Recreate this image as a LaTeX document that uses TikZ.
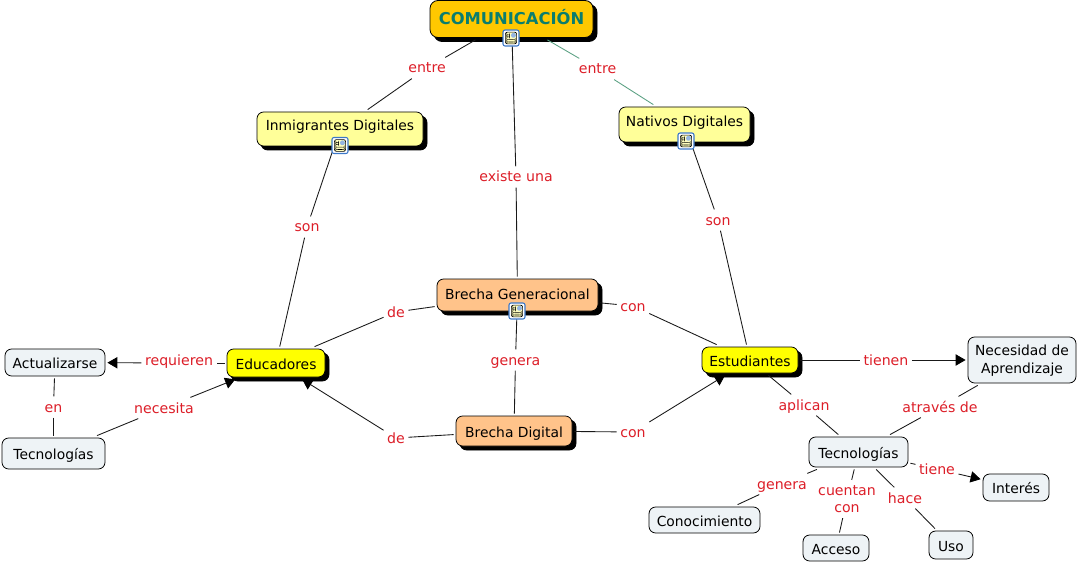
\documentclass[tikz,border=0pt]{standalone}
\usepackage{fontspec}
\setmainfont{DejaVu Sans}
\usetikzlibrary{arrows.meta, shadows}
\definecolor{topgold}{RGB}{255, 200, 0}
\definecolor{paleyellow}{RGB}{255, 255, 153}
\definecolor{brightyellow}{RGB}{255, 255, 0}
\definecolor{peach}{RGB}{255, 195, 138}
\definecolor{mistgray}{RGB}{238, 243, 246}
\definecolor{labelred}{RGB}{220, 30, 40}
\definecolor{titleteal}{RGB}{10, 125, 110}
\definecolor{linkgreen}{RGB}{90, 160, 130}
\definecolor{iconblue}{RGB}{60, 120, 200}
\definecolor{iconcream}{RGB}{255, 255, 190}

\begin{document}
\begin{tikzpicture}[x=0.75pt, y=-0.75pt,
  sz/.style 2 args={minimum width=#1*0.75pt, minimum height=#2*0.75pt},
  concept/.style={draw, rounded corners=5pt, inner sep=0pt, outer sep=1.8pt, font=\fontsize{10.4}{13.5}\selectfont,
                  align=center, text height=9.5pt, text depth=0.5pt, line width=0.6pt},
  shadowed/.style={concept, copy shadow={opacity=1, fill=black, draw=black, shadow xshift=3pt, shadow yshift=-3pt}},
  iconabove/.style={text height=9.5pt, text depth=6.5pt},
  linkword/.style={text=labelred, font=\fontsize{10.6}{12.75}\selectfont, inner xsep=2.5pt, inner ysep=3pt,
                   align=center, text height=8.5pt, text depth=1pt},
  conn/.style={line width=0.65pt, black!90},
  arrowconn/.style={conn, -{Triangle[length=7.5pt, width=8.5pt, color=black, fill=black]}},
  docicon/.style={draw=iconblue, fill=white, rounded corners=1.5pt, line width=0.8pt, minimum size=12pt, inner sep=0pt,
    path picture={
      \fill[iconcream, draw=black, line width=0.5pt] ([xshift=-4.2pt, yshift=-4.4pt]path picture bounding box.center) rectangle ([xshift=4.2pt, yshift=4.4pt]path picture bounding box.center);
      \fill[black] ([xshift=-3.2pt, yshift=2.6pt]path picture bounding box.center) rectangle ([xshift=-0.9pt, yshift=2.1pt]path picture bounding box.center);
      \fill[black] ([xshift=-3.2pt, yshift=1.1pt]path picture bounding box.center) rectangle ([xshift=-0.9pt, yshift=0.6pt]path picture bounding box.center);
      \fill[black] ([xshift=-3.2pt, yshift=-1.0pt]path picture bounding box.center) rectangle ([xshift=3.2pt, yshift=-1.5pt]path picture bounding box.center);
      \fill[black] ([xshift=-3.2pt, yshift=-2.7pt]path picture bounding box.center) rectangle ([xshift=3.2pt, yshift=-3.2pt]path picture bounding box.center);
      \fill[iconblue!55] ([xshift=0.1pt, yshift=0.2pt]path picture bounding box.center) rectangle ([xshift=3.6pt, yshift=3.8pt]path picture bounding box.center);
    }},
]
\useasboundingbox (0,0) rectangle (1078,563);

% Concepts with shadow
\node[shadowed, sz={163}{37}, fill=topgold, text=titleteal, rounded corners=6pt, font=\fontsize{12.25}{14}\bfseries\selectfont] (comun) at (511.5,19) {COMUNICACIÓN};
\node[shadowed, iconabove, sz={166}{34}, fill=paleyellow] (inmig) at (340,129) {Inmigrantes Digitales};
\node[shadowed, iconabove, sz={131}{35}, fill=paleyellow] (nativos) at (684.5,124.5) {Nativos Digitales};
\node[shadowed, text height=9pt, text depth=3pt, sz={161}{32}, fill=peach] (brechagen) at (517.5,295) {Brecha Generacional};
\node[shadowed, sz={116}{30}, fill=peach] (brechadig) at (514,431) {Brecha Digital};
\node[shadowed, sz={98}{28}, fill=brightyellow] (educ) at (276,363) {Educadores};
\node[shadowed, sz={96}{26}, fill=brightyellow] (estud) at (750,360) {Estudiantes};

% Plain concepts
\node[concept, sz={100}{27}, fill=mistgray] (actual) at (55,362.5) {Actualizarse};
\node[concept, sz={103}{31}, fill=mistgray] (tecizq) at (53.5,453.5) {Tecnologías};
\node[concept, sz={108}{46}, text height=21pt, text depth=1pt, fill=mistgray] (necesidad) at (1022,360) {Necesidad de\\Aprendizaje};
\node[concept, sz={99}{30}, fill=mistgray] (tecder) at (858.5,452) {Tecnologías};
\node[concept, sz={66}{27}, fill=mistgray] (interes) at (1016,487.5) {Interés};
\node[concept, sz={111}{26}, fill=mistgray] (conoc) at (704.5,520) {Conocimiento};
\node[concept, sz={66}{26}, fill=mistgray] (acceso) at (836,548) {Acceso};
\node[concept, sz={44}{28}, fill=mistgray] (uso) at (951,545) {Uso};

% Linking words
\node[linkword] (entreizq) at (427,68) {entre};
\node[linkword] (entreder) at (597.5,69) {entre};
\node[linkword] (existe) at (516,177) {existe una};
\node[linkword] (sonizq) at (307,227) {son};
\node[linkword] (sonder) at (718,220) {son};
\node[linkword] (degen) at (396,312) {de};
\node[linkword] (congen) at (633,306) {con};
\node[linkword] (generabr) at (515.5,360) {genera};
\node[linkword] (dedig) at (396,438) {de};
\node[linkword] (condig) at (633,432) {con};
\node[linkword, text height=7pt, text depth=3.5pt] (requieren) at (179,363) {requieren};
\node[linkword] (enact) at (53.5,407) {en};
\node[linkword] (necesita) at (164,408) {necesita};
\node[linkword] (tienen) at (886,360) {tienen};
\node[linkword] (aplican) at (804,405) {aplican};
\node[linkword] (atraves) at (940,407) {através de};
\node[linkword] (tiene) at (937,469) {tiene};
\node[linkword] (generacon) at (782,484) {genera};
\node[linkword, text height=21.25pt] (cuentan) at (847,499) {cuentan\\con};
\node[linkword] (hace) at (905,498) {hace};

% Top part
\draw[conn] (comun) -- (entreizq);
\draw[conn] (entreizq) -- (inmig);
\draw[conn, linkgreen] (comun) -- (entreder);
\draw[conn, linkgreen] (entreder) -- (nativos);
\draw[conn] (comun) -- (existe);
\draw[conn] (existe) -- (brechagen);
\draw[conn] (inmig) -- (sonizq);
\draw[conn] (sonizq) -- (educ);
\draw[conn] (nativos) -- (sonder);
\draw[conn] (sonder) -- (estud);

% Middle part
\draw[conn] (brechagen) -- (degen);
\draw[conn] (degen) -- (educ);
\draw[conn] (brechagen) -- (congen);
\draw[conn] (congen) -- (estud);
\draw[conn] (brechagen) -- (generabr);
\draw[conn] (generabr) -- (brechadig);
\draw[conn] (brechadig) -- (dedig);
\draw[arrowconn] (dedig) -- (educ);
\draw[conn] (brechadig) -- (condig);
\draw[arrowconn] (condig) -- (estud);

% Left part
\draw[conn] (educ) -- (requieren);
\draw[arrowconn] (requieren) -- (actual);
\draw[conn] (actual) -- (enact);
\draw[conn] (enact) -- (tecizq);
\draw[conn] (tecizq) -- (necesita);
\draw[arrowconn] (necesita) -- (educ);

% Right part
\draw[conn] (estud) -- (tienen);
\draw[arrowconn] (tienen) -- (necesidad);
\draw[conn] (estud) -- (aplican);
\draw[conn] (aplican) -- (tecder);
\draw[conn] (necesidad) -- (atraves);
\draw[conn] (atraves) -- (tecder);
\draw[conn] (tecder) -- (tiene);
\draw[arrowconn] (tiene) -- (interes);
\draw[conn] (tecder) -- (generacon);
\draw[conn] (generacon) -- (conoc);
\draw[conn] (tecder) -- (cuentan);
\draw[conn] (cuentan) -- (acceso);
\draw[conn] (tecder) -- (hace);
\draw[conn] (hace) -- (uso);

% Icons on top of the lines
\node[docicon] (iconcomun) at (511,38) {};
\node[docicon] (iconinmig) at (340,145.5) {};
\node[docicon] (iconnativos) at (686,141) {};
\node[docicon] (iconbrecha) at (517,311) {};
\end{tikzpicture}
\end{document}
